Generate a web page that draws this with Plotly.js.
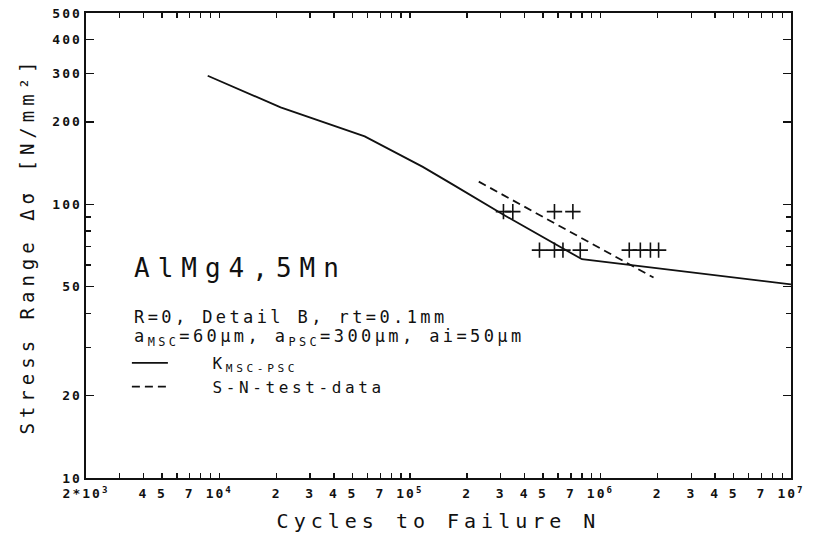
<!DOCTYPE html>
<html>
<head>
<meta charset="utf-8">
<script src="https://cdn.plot.ly/plotly-3.0.1.min.js"></script>
<style>
  html, body { margin: 0; padding: 0; background: #fff; }
  #chart { width: 814px; height: 544px; }
  .xtick text, .ytick text { letter-spacing: 2px; }
  .xtitle, .ytitle { letter-spacing: 5px; }
  .legendtext { letter-spacing: 3.6px; }
  g.annotation text { letter-spacing: 3.4px; }
  g.annotation[data-index="0"] text { letter-spacing: 8px; }
</style>
</head>
<body>
<div id="chart"></div>
<script>
// ---- data ----
// K_MSC-PSC prediction curve (cycles, stress range N/mm^2)
const curveN = [8700, 21000, 58000, 117000, 165000, 235000, 315000, 800000, 3300000, 10000000];
const curveS = [295, 226, 177, 137, 119, 103, 91, 63, 56, 51];

// S-N test data fit line
const snN = [230000, 1900000];
const snS = [121, 54];

// individual test results (+)
const testN = [310000, 347000, 574000, 717000,
               479000, 574000, 636000, 784000, 1417000, 1620000, 1830000, 2020000];
const testS = [94, 94, 94, 94,
               68, 68, 68, 68, 68, 68, 68, 68];

// axis ticks
const xTickVals = [2000, 4000, 5000, 7000, 1e4, 2e4, 3e4, 4e4, 5e4, 7e4, 1e5,
                   2e5, 3e5, 4e5, 5e5, 7e5, 1e6, 2e6, 3e6, 4e6, 5e6, 7e6, 1e7];
const xTickText = ['2*10<sup>3</sup>', '4', '5', '7', '10<sup>4</sup>', '2', '3', '4', '5', '7', '10<sup>5</sup>',
                   '2', '3', '4', '5', '7', '10<sup>6</sup>', '2', '3', '4', '5', '7', '10<sup>7</sup>'];
const xMinorVals = [3000, 6000, 8000, 9000, 6e4, 8e4, 9e4, 6e5, 8e5, 9e5, 6e6, 8e6, 9e6];
const xDecadeVals = [1e4, 1e5, 1e6, 1e7];

const yTickVals = [10, 20, 50, 100, 200, 300, 400, 500];
const yTickText = ['10', '20', '50', '100', '200', '300', '400', '500'];
const yMinorVals = [30, 40, 60, 70, 80, 90];
const yLongVals = [150, 250, 350, 450];

const mono = 'DejaVu Sans Mono';
const ink = '#111';

const traces = [
  {
    x: curveN, y: curveS, type: 'scatter', mode: 'lines',
    name: '\u00A0\u00A0\u00A0K<sub>MSC-PSC</sub>',
    line: { color: ink, width: 1.8 }
  },
  {
    x: snN, y: snS, type: 'scatter', mode: 'lines',
    name: '\u00A0\u00A0\u00A0S-N-test-data',
    line: { color: ink, width: 1.8, dash: '8px,5px' }
  },
  {
    x: testN, y: testS, type: 'scatter', mode: 'markers',
    showlegend: false,
    marker: { symbol: 'cross-thin-open', size: 11, color: ink, line: { color: ink, width: 1.6 } }
  }
];

const xRange = [Math.log10(2000), 7];
const yRange = [1, Math.log10(500)];

const layout = {
  width: 814, height: 544,
  margin: { l: 86, r: 23, t: 13, b: 66 },
  paper_bgcolor: '#fff', plot_bgcolor: '#fff',
  font: { family: mono, color: ink },
  showlegend: true,
  legend: {
    x: 0.058, y: 0.284, xanchor: 'left', yanchor: 'top',
    bgcolor: 'rgba(0,0,0,0)', borderwidth: 0,
    itemwidth: 36,
    font: { family: mono, size: 16, color: ink }
  },
  xaxis: {
    type: 'log', range: xRange,
    showgrid: false, zeroline: false,
    showline: true, linecolor: ink, linewidth: 1.6, mirror: 'allticks',
    ticks: 'inside', ticklen: 5, tickwidth: 1.4, tickcolor: ink,
    tickmode: 'array', tickvals: xTickVals, ticktext: xTickText,
    ticklabelstandoff: 3,
    tickfont: { family: mono, size: 13, weight: 'bold', color: ink },
    minor: { tickmode: 'array', tickvals: xMinorVals, ticks: 'inside', ticklen: 5, tickwidth: 1.4, tickcolor: ink, showgrid: false },
    title: { text: 'Cycles to Failure N', font: { family: mono, size: 20, color: ink }, standoff: 14 },
    automargin: false
  },
  xaxis2: {
    type: 'log', range: xRange, overlaying: 'x', anchor: 'y', side: 'bottom',
    showgrid: false, zeroline: false, showline: false, mirror: 'allticks',
    ticks: 'inside', ticklen: 9, tickwidth: 1.4, tickcolor: ink,
    tickmode: 'array', tickvals: xDecadeVals, showticklabels: false
  },
  yaxis: {
    type: 'log', range: yRange,
    showgrid: false, zeroline: false,
    showline: true, linecolor: ink, linewidth: 1.6, mirror: 'allticks',
    ticks: 'inside', ticklen: 8, tickwidth: 1.4, tickcolor: ink,
    tickmode: 'array', tickvals: yTickVals, ticktext: yTickText,
    tickfont: { family: mono, size: 13, weight: 'bold', color: ink },
    minor: { tickmode: 'array', tickvals: yMinorVals, ticks: 'inside', ticklen: 5, tickwidth: 1.4, tickcolor: ink, showgrid: false },
    title: { text: 'Stress Range Δσ [N/mm²]', font: { family: mono, size: 19, color: ink }, standoff: 12 },
    automargin: false
  },
  yaxis2: {
    type: 'log', range: yRange, overlaying: 'y', anchor: 'x', side: 'left',
    showgrid: false, zeroline: false, showline: false, mirror: 'allticks',
    ticks: 'inside', ticklen: 8, tickwidth: 1.4, tickcolor: ink,
    tickmode: 'array', tickvals: yLongVals, showticklabels: false
  },
  annotations: [
    {
      xref: 'paper', yref: 'paper', x: 0.0652, y: 0.4516, xanchor: 'left', yanchor: 'middle', align: 'left',
      showarrow: false, text: 'AlMg4,5Mn', font: { family: mono, size: 26, color: ink }
    },
    {
      xref: 'paper', yref: 'paper', x: 0.0652, y: 0.346, xanchor: 'left', yanchor: 'middle', align: 'left',
      showarrow: false, text: 'R=0, Detail B, rt=0.1mm', font: { family: mono, size: 17, color: ink }
    },
    {
      xref: 'paper', yref: 'paper', x: 0.0652, y: 0.303, xanchor: 'left', yanchor: 'middle', align: 'left',
      showarrow: false, text: 'a<sub>MSC</sub>=60µm, a<sub>PSC</sub>=300µm, ai=50µm', font: { family: mono, size: 17, color: ink }
    }
  ]
};

Plotly.newPlot('chart', traces, layout, { staticPlot: true, displayModeBar: false });
</script>
</body>
</html>
